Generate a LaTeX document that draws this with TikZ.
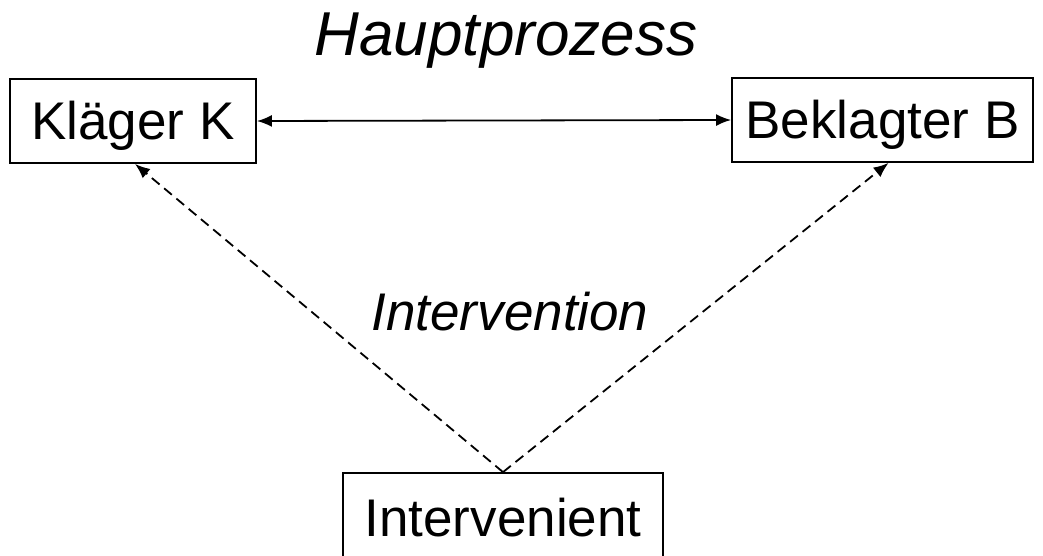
\documentclass[tikz,border=0pt]{standalone}
\usepackage{fontspec}
\setmainfont{Liberation Sans}
\usetikzlibrary{arrows.meta}
\begin{document}
\begin{tikzpicture}[x=1pt,y=-1pt,
  party/.style={draw, line width=1.8pt, inner sep=0pt, text height=38pt, text depth=0pt,
     font=\fontsize{53}{60}\selectfont, minimum height=84pt},
  title/.style={font=\fontsize{62}{70}\selectfont\itshape, inner sep=0pt},
  sublabel/.style={font=\fontsize{53}{60}\selectfont\itshape, inner sep=0pt},
  mainarrow/.style={line width=1.8pt, {Latex[length=15pt,width=12pt]}-{Latex[length=15pt,width=12pt]}},
  intarrow/.style={line width=1.8pt, dash pattern=on 10pt off 6pt, -{Latex[length=15pt,width=12pt]}}
]
\useasboundingbox (0,0) rectangle (1043,556);
\node[party, minimum width=246pt] (kl) at (133,121) {Kläger K};
\node[party, minimum width=301pt] (bk) at (882.5,120) {Beklagter B};
\node[party, minimum width=320pt, minimum height=88pt] (iv) at (503,517) {Intervenient};
\node[title, anchor=base] (hp) at (506,56) {Hauptprozess};
\node[sublabel, anchor=base] (in) at (510,330) {Intervention};
\draw[mainarrow] (kl.east) -- (bk.west);
\draw[intarrow] (iv.north) -- ([xshift=2pt]kl.south);
\draw[intarrow] (iv.north) -- ([xshift=6pt]bk.south);
\end{tikzpicture}
\end{document}
